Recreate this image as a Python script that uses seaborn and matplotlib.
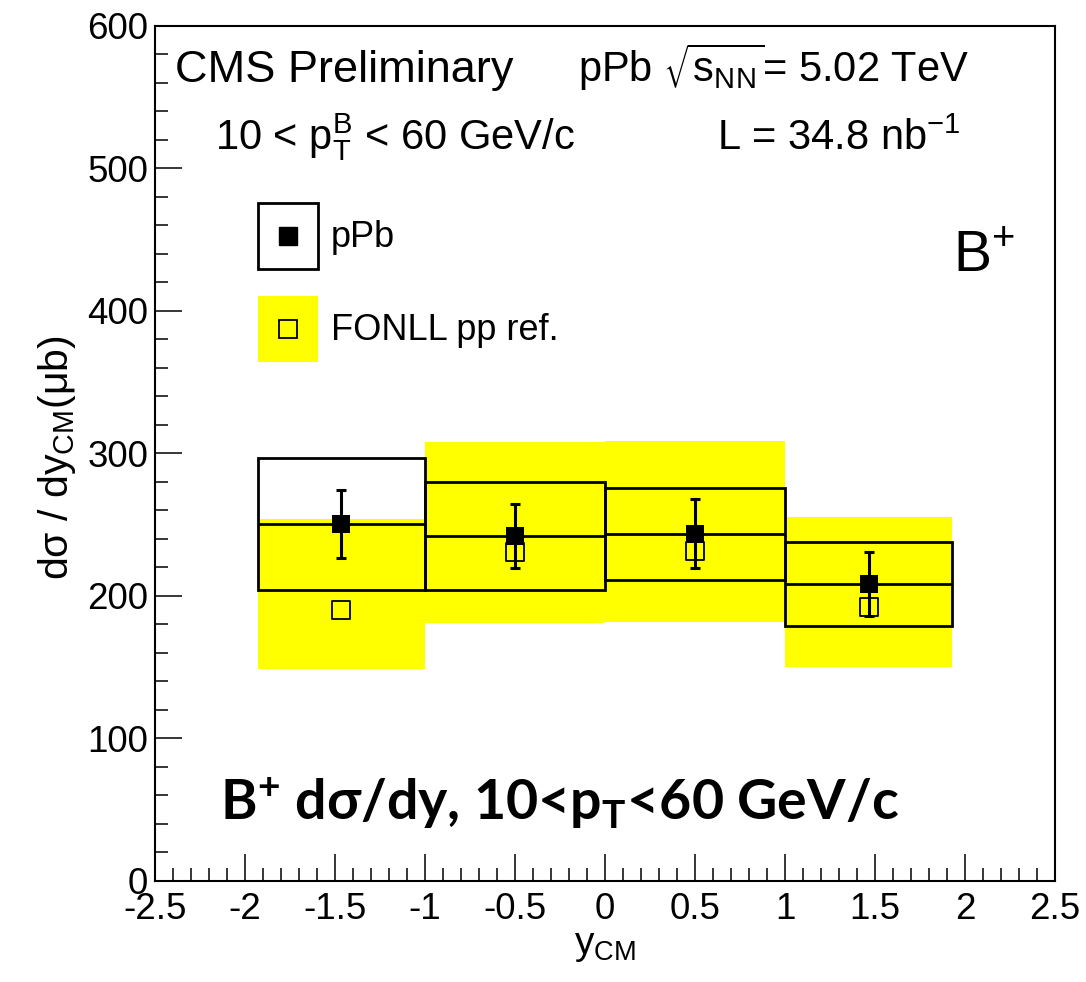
import numpy as np
import matplotlib
matplotlib.use("Agg")
import matplotlib.pyplot as plt
import seaborn as sns
from matplotlib.patches import Patch, Rectangle
from matplotlib.lines import Line2D
from matplotlib.ticker import MultipleLocator, FuncFormatter

# rapidity bins (centre-of-mass frame)
bin_lo = [-1.93, -1.0, 0.0, 1.0]
bin_hi = [-1.0, 0.0, 1.0, 1.93]
y_cm = [-1.465, -0.5, 0.5, 1.465]

# pPb measurement: value, stat error bar ends, syst box ends
ppb = [250.1, 241.9, 243.5, 208.3]
ppb_stat_lo = [226.3, 219.7, 219.3, 186.0]
ppb_stat_hi = [274.2, 264.2, 267.7, 230.5]
ppb_syst_lo = [204.0, 203.9, 211.1, 178.6]
ppb_syst_hi = [296.4, 279.8, 275.8, 237.7]

# FONLL pp reference (scaled) and its uncertainty band
fonll = [190.3, 230.5, 231.6, 191.9]
fonll_lo = [148.9, 181.1, 181.8, 149.9]
fonll_hi = [253.6, 307.9, 308.6, 255.3]


class BoxWithMarker:
    # legend entry: filled/outlined box with the marker in its centre
    def legend_artist(self, legend, orig_handle, fontsize, handlebox):
        patch, line = orig_handle
        x0, y0 = -handlebox.xdescent, -handlebox.ydescent
        w, h = handlebox.width, handlebox.height
        rect = Rectangle((x0, y0), w, h, facecolor=patch.get_facecolor(),
                         edgecolor=patch.get_edgecolor(), linewidth=patch.get_linewidth(),
                         transform=handlebox.get_transform())
        mk = Line2D([x0 + w/2], [y0 + h/2], marker=line.get_marker(), ls='none',
                    ms=line.get_markersize(), mfc=line.get_markerfacecolor(),
                    mec=line.get_markeredgecolor(), mew=line.get_markeredgewidth(),
                    transform=handlebox.get_transform())
        handlebox.add_artist(rect)
        handlebox.add_artist(mk)
        return rect


sns.set_style("ticks")
plt.rcParams['font.family'] = ['Liberation Sans', 'DejaVu Sans']
plt.rcParams['mathtext.default'] = 'regular'
plt.rcParams['axes.unicode_minus'] = False
plt.rcParams['axes.linewidth'] = 1.5
for k in ['text.color', 'axes.labelcolor', 'xtick.color', 'ytick.color', 'axes.edgecolor']:
    plt.rcParams[k] = 'black'

fig = plt.figure(figsize=(10.86, 9.82), dpi=100)
ax = fig.add_axes([155/1086, 1-881/982, 900/1086, 855.3/982])

lo = np.array(bin_lo)
hi = np.array(bin_hi)
width = hi - lo

# yellow FONLL band
ax.bar(lo, np.array(fonll_hi)-np.array(fonll_lo), width=width, bottom=fonll_lo,
       align='edge', color='#ffff00', edgecolor='none', zorder=1)
# pPb systematic boxes
ax.bar(lo, np.array(ppb_syst_hi)-np.array(ppb_syst_lo), width=width, bottom=ppb_syst_lo,
       align='edge', fill=False, edgecolor='black', linewidth=2.0, zorder=2)
ax.hlines(ppb, lo, hi, colors='black', linewidth=2.0, zorder=2)

sns.scatterplot(x=y_cm, y=fonll, marker='s', s=13**2, facecolor='none',
                edgecolor='black', linewidth=1.3, zorder=3, ax=ax)
ax.errorbar(y_cm, ppb, yerr=[np.array(ppb)-np.array(ppb_stat_lo), np.array(ppb_stat_hi)-np.array(ppb)],
            fmt='none', ecolor='black', elinewidth=2.2, capsize=3.3, capthick=2.2, zorder=4)
sns.scatterplot(x=y_cm, y=ppb, marker='s', s=13**2, color='black',
                edgecolor='black', linewidth=0, zorder=5, ax=ax)

ax.set_xlim(-2.5, 2.5)
ax.set_ylim(0, 600)
ax.xaxis.set_major_locator(MultipleLocator(0.5))
ax.xaxis.set_minor_locator(MultipleLocator(0.1))
ax.yaxis.set_major_locator(MultipleLocator(100))
ax.yaxis.set_minor_locator(MultipleLocator(20))
ax.xaxis.set_major_formatter(FuncFormatter(lambda v, p: f"{v:g}"))
ax.tick_params(which='both', direction='in', top=False, right=False, width=1.1, labelsize=26.5)
ax.tick_params(which='major', length=19.5)
ax.tick_params(which='minor', length=9.5)
ax.tick_params(axis='x', pad=8)
ax.tick_params(axis='y', pad=5)
for s in ax.spines.values():
    s.set_visible(True)
    s.set_linewidth(1.5)

ax.set_xlabel("y$_{CM}$", fontsize=28)
ax.xaxis.set_label_coords(0.5, -0.055)
ax.xaxis.label.set_va('top')
ax.set_ylabel("dσ / dy$_{CM}$(μb)", fontsize=29.5)
ax.yaxis.set_label_coords(-0.086, 0.495)

ax.text(-2.389, 560.6, "CMS Preliminary", fontsize=32.5, va='baseline')
ax.text(-0.15, 560.5, "pPb $\\sqrt{s_{NN}}$= 5.02 TeV", fontsize=30, va='baseline')
ax.text(-2.167, 513, "10 < p$_T^B$ < 60 GeV/c", fontsize=30, va='baseline')
ax.text(0.622, 513, "L = 34.8 nb$^{-1}$", fontsize=30, va='baseline')
ax.text(1.933, 428, "B$^{+}$", fontsize=41, va='baseline')
ax.text(-2.139, 42.8, "B$^{+}$ dσ/dy, 10<p$_T$<60 GeV/c", fontsize=40,
        family=['Lato', 'DejaVu Sans'], fontweight='bold', va='baseline')

h1 = (Patch(facecolor='white', edgecolor='black', linewidth=2),
      Line2D([], [], marker='s', ls='none', color='black', ms=13))
h2 = (Patch(facecolor='#ffff00', edgecolor='none'),
      Line2D([], [], marker='s', ls='none', mfc='none', mec='black', mew=1.3, ms=13))
ax.legend([h1, h2], ["pPb", "FONLL pp ref."], handler_map={tuple: BoxWithMarker()},
          loc='upper left', bbox_to_anchor=((258-155)/900, (881-203)/855.3),
          frameon=False, fontsize=26, borderpad=0, borderaxespad=0,
          handlelength=1.66, handleheight=2.435, handletextpad=0.35, labelspacing=0.75)

fig.savefig("out.png", dpi=100)
